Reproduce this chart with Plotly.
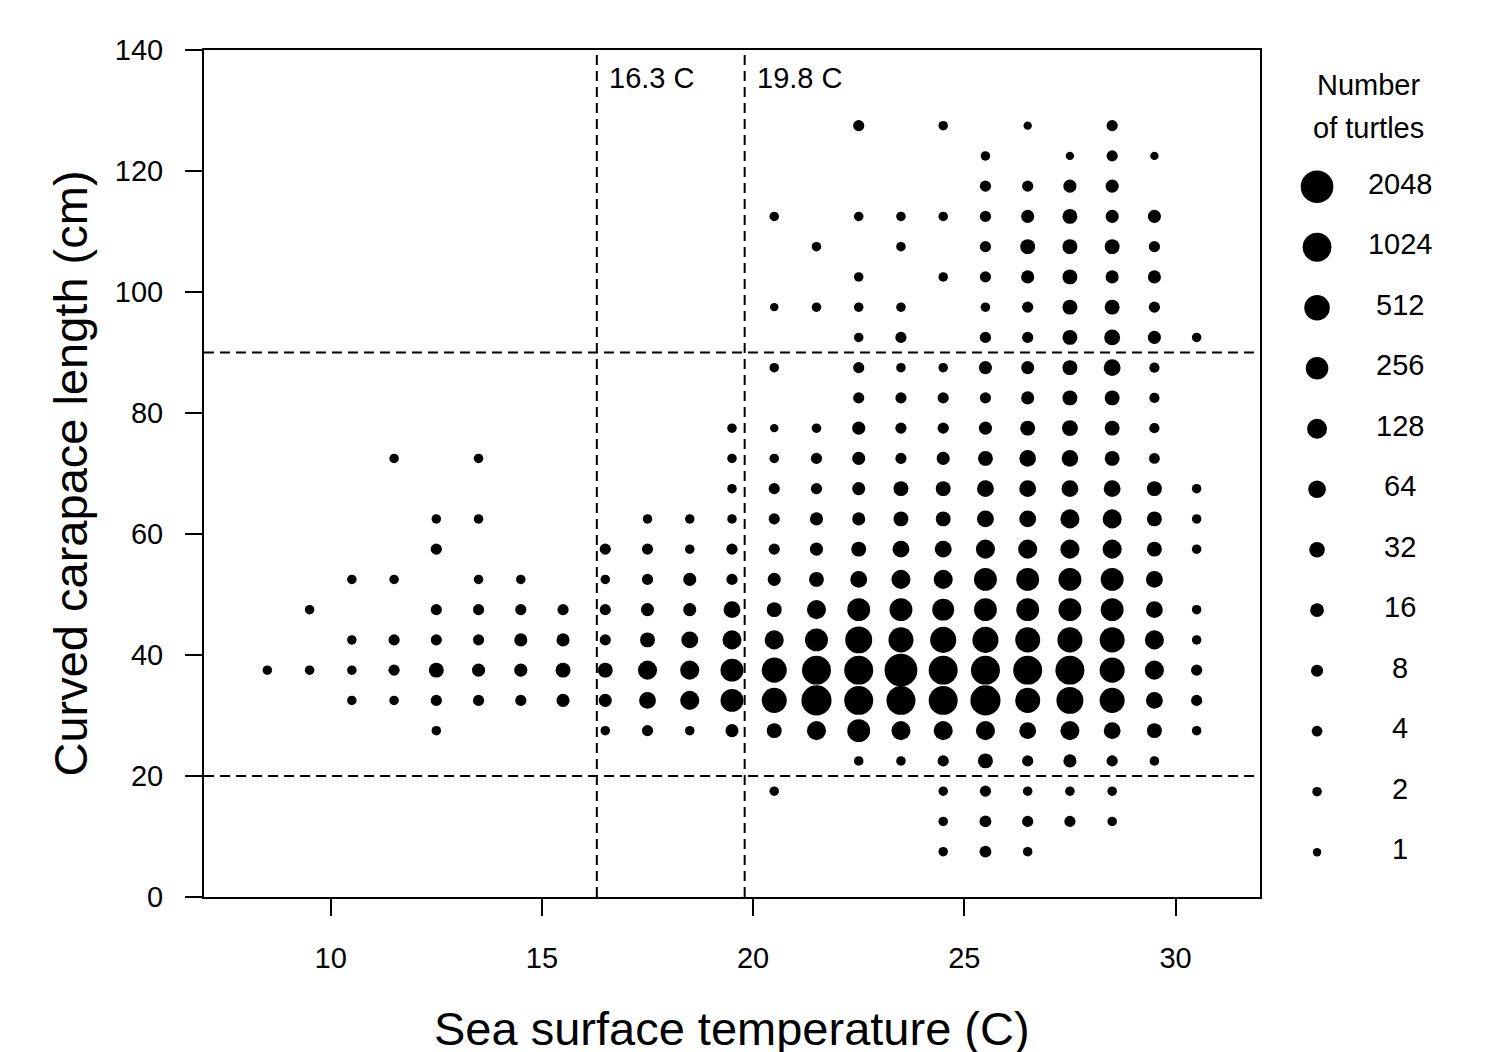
import plotly.graph_objects as go

# ---- data: sea surface temperature bins (C) and curved carapace length bins (cm)
sst_bins = [8.5, 9.5, 10.5, 11.5, 12.5, 13.5, 14.5, 15.5, 16.5, 17.5, 18.5, 19.5,
            20.5, 21.5, 22.5, 23.5, 24.5, 25.5, 26.5, 27.5, 28.5, 29.5, 30.5]

ccl_by_sst = [
    [37.5],
    [37.5, 47.5],
    [32.5, 37.5, 42.5, 52.5],
    [32.5, 37.5, 42.5, 52.5, 72.5],
    [27.5, 32.5, 37.5, 42.5, 47.5, 57.5, 62.5],
    [32.5, 37.5, 42.5, 47.5, 52.5, 62.5, 72.5],
    [32.5, 37.5, 42.5, 47.5, 52.5],
    [32.5, 37.5, 42.5, 47.5],
    [27.5, 32.5, 37.5, 42.5, 47.5, 52.5, 57.5],
    [27.5, 32.5, 37.5, 42.5, 47.5, 52.5, 57.5, 62.5],
    [27.5, 32.5, 37.5, 42.5, 47.5, 52.5, 57.5, 62.5],
    [27.5, 32.5, 37.5, 42.5, 47.5, 52.5, 57.5, 62.5, 67.5, 72.5, 77.5],
    [17.5, 27.5, 32.5, 37.5, 42.5, 47.5, 52.5, 57.5, 62.5, 67.5, 72.5, 77.5, 87.5, 97.5, 112.5],
    [27.5, 32.5, 37.5, 42.5, 47.5, 52.5, 57.5, 62.5, 67.5, 72.5, 77.5, 97.5, 107.5],
    [22.5, 27.5, 32.5, 37.5, 42.5, 47.5, 52.5, 57.5, 62.5, 67.5, 72.5, 77.5, 82.5, 87.5, 92.5,
     97.5, 102.5, 112.5, 127.5],
    [22.5, 27.5, 32.5, 37.5, 42.5, 47.5, 52.5, 57.5, 62.5, 67.5, 72.5, 77.5, 82.5, 87.5, 92.5,
     97.5, 107.5, 112.5],
    [7.5, 12.5, 17.5, 22.5, 27.5, 32.5, 37.5, 42.5, 47.5, 52.5, 57.5, 62.5, 67.5, 72.5, 77.5,
     82.5, 87.5, 102.5, 112.5, 127.5],
    [7.5, 12.5, 17.5, 22.5, 27.5, 32.5, 37.5, 42.5, 47.5, 52.5, 57.5, 62.5, 67.5, 72.5, 77.5,
     82.5, 87.5, 92.5, 97.5, 102.5, 107.5, 112.5, 117.5, 122.5],
    [7.5, 12.5, 17.5, 22.5, 27.5, 32.5, 37.5, 42.5, 47.5, 52.5, 57.5, 62.5, 67.5, 72.5, 77.5,
     82.5, 87.5, 92.5, 97.5, 102.5, 107.5, 112.5, 117.5, 127.5],
    [12.5, 17.5, 22.5, 27.5, 32.5, 37.5, 42.5, 47.5, 52.5, 57.5, 62.5, 67.5, 72.5, 77.5, 82.5,
     87.5, 92.5, 97.5, 102.5, 107.5, 112.5, 117.5, 122.5],
    [12.5, 17.5, 22.5, 27.5, 32.5, 37.5, 42.5, 47.5, 52.5, 57.5, 62.5, 67.5, 72.5, 77.5, 82.5,
     87.5, 92.5, 97.5, 102.5, 107.5, 112.5, 117.5, 122.5, 127.5],
    [22.5, 27.5, 32.5, 37.5, 42.5, 47.5, 52.5, 57.5, 62.5, 67.5, 72.5, 77.5, 82.5, 87.5, 92.5,
     97.5, 102.5, 107.5, 112.5, 122.5],
    [27.5, 32.5, 37.5, 42.5, 47.5, 57.5, 62.5, 67.5, 92.5],
]

turtles_by_sst = [
    [2],
    [2, 2],
    [2, 2, 2, 2],
    [2, 5, 5, 2, 2],
    [2, 5, 25, 5, 5, 5, 2],
    [5, 12, 5, 5, 2, 2, 2],
    [5, 12, 12, 5, 2],
    [12, 25, 12, 5],
    [2, 12, 25, 5, 5, 2, 5],
    [5, 50, 100, 25, 12, 5, 5, 2],
    [2, 100, 100, 50, 12, 12, 2, 2],
    [12, 280, 280, 100, 50, 5, 5, 2, 2, 2, 2],
    [2, 25, 460, 460, 100, 25, 12, 5, 5, 5, 2, 1, 2, 1, 2],
    [100, 1300, 1050, 280, 100, 25, 12, 12, 5, 5, 2, 2, 2],
    [2, 280, 1050, 1050, 700, 280, 50, 25, 12, 12, 12, 12, 5, 5, 2, 2, 2, 2, 5],
    [2, 100, 1050, 2100, 460, 280, 100, 50, 25, 25, 5, 5, 5, 2, 5, 2, 2, 2],
    [2, 2, 2, 5, 100, 1050, 1050, 580, 220, 100, 50, 25, 25, 12, 5, 5, 2, 2, 2, 2],
    [7, 7, 5, 25, 100, 1300, 1050, 580, 280, 280, 100, 50, 50, 25, 12, 5, 12, 5, 2, 5, 5, 5, 5, 2],
    [2, 5, 2, 5, 50, 460, 1050, 460, 280, 280, 100, 50, 50, 45, 25, 12, 12, 5, 5, 12, 25, 12, 5, 1],
    [5, 2, 12, 100, 700, 1050, 460, 280, 280, 100, 100, 50, 45, 36, 25, 25, 25, 25, 25, 25, 25, 12, 1],
    [2, 2, 5, 50, 460, 460, 460, 280, 280, 100, 100, 50, 25, 25, 25, 50, 36, 25, 12, 25, 12, 12, 5, 5],
    [2, 25, 50, 100, 100, 50, 50, 25, 25, 25, 4, 3, 3, 3, 12, 5, 12, 5, 12, 1],
    [2, 5, 5, 2, 2, 2, 2, 2, 2],
]

legend_counts = [2048, 1024, 512, 256, 128, 64, 32, 16, 8, 4, 2, 1]
sst_thresholds = [16.3, 19.8]
ccl_thresholds = [20, 90]
x_ticks = [10, 15, 20, 25, 30]
y_ticks = [0, 20, 40, 60, 80, 100, 120, 140]

# ---- styling helpers
FONT = "Liberation Sans, Arial, Helvetica, sans-serif"
FS = 29


def dot_size(n):
    return 8.4 * n ** 0.178


xs, ys, ns = [], [], []
for x, ccls, cnts in zip(sst_bins, ccl_by_sst, turtles_by_sst):
    for y, n in zip(ccls, cnts):
        xs.append(x)
        ys.append(y)
        ns.append(n)

fig = go.Figure()
fig.add_trace(go.Scatter(
    x=xs, y=ys, mode="markers",
    marker=dict(size=[dot_size(n) for n in ns], sizemode="diameter",
                color="black", opacity=1, line=dict(width=0)),
    customdata=ns, hovertemplate="SST %{x} C<br>CCL %{y} cm<br>n=%{customdata}<extra></extra>",
    showlegend=False, cliponaxis=False,
))

# legend drawn on a secondary axis pair
leg_top = 117.4
leg_step = 10.0
leg_y = [leg_top - i * leg_step for i in range(len(legend_counts))]
fig.add_trace(go.Scatter(
    x=[0.243] * len(legend_counts), y=leg_y, mode="markers",
    marker=dict(size=[dot_size(n) for n in legend_counts], sizemode="diameter",
                color="black", opacity=1, line=dict(width=0)),
    xaxis="x2", yaxis="y2", showlegend=False, hoverinfo="skip", cliponaxis=False,
))
fig.add_trace(go.Scatter(
    x=[0.72] * len(legend_counts), y=leg_y, mode="text",
    text=[str(n) for n in legend_counts], textposition="middle center",
    textfont=dict(family=FONT, size=FS, color="black"),
    xaxis="x2", yaxis="y2", showlegend=False, hoverinfo="skip", cliponaxis=False,
))

shapes = []
for t in sst_thresholds:
    shapes.append(dict(type="line", xref="x", yref="y domain", x0=t, x1=t, y0=0, y1=1,
                       line=dict(color="black", width=2, dash="10px,6px")))
for t in ccl_thresholds:
    shapes.append(dict(type="line", xref="x domain", yref="y", x0=0, x1=1, y0=t, y1=t,
                       line=dict(color="black", width=2, dash="10px,6px")))

annotations = []
for t in sst_thresholds:
    annotations.append(dict(x=t, y=1, xref="x", yref="paper", text=f"{t} C",
                            showarrow=False, xanchor="left", yanchor="middle",
                            xshift=10, yshift=-28,
                            font=dict(family=FONT, size=FS, color="black")))
annotations.append(dict(x=0.54, y=134.2, xref="x2", yref="y2", text="Number",
                        showarrow=False, xanchor="center", yanchor="middle",
                        font=dict(family=FONT, size=FS, color="black")))
annotations.append(dict(x=0.54, y=127.1, xref="x2", yref="y2", text="of turtles",
                        showarrow=False, xanchor="center", yanchor="middle",
                        font=dict(family=FONT, size=FS, color="black")))
annotations.append(dict(x=0.5, y=0, xref="x domain", yref="paper",
                        text="Sea surface temperature (C)", showarrow=False,
                        xanchor="center", yanchor="middle", yshift=-131,
                        font=dict(family=FONT, size=47, color="black")))
annotations.append(dict(x=0, y=0.5, xref="paper", yref="paper",
                        text="Curved carapace length (cm)", showarrow=False,
                        textangle=-90, xanchor="center", yanchor="middle", xshift=-134,
                        font=dict(family=FONT, size=47, color="black")))

# page has an 8px body margin: figure is offset accordingly
L, R, T, B = 196, 40, 42, 155
W, H = 1481, 1044
main_frac = 1056 / (W - L - R)

fig.update_layout(
    width=W, height=H,
    margin=dict(l=L, r=R, t=T, b=B),
    paper_bgcolor="white", plot_bgcolor="white",
    font=dict(family=FONT, size=FS, color="black"),
    xaxis=dict(domain=[0, main_frac], range=[7, 32], tickvals=x_ticks,
               showgrid=False, zeroline=False, showline=True, mirror=True,
               linecolor="black", linewidth=2, ticks="outside", ticklen=17,
               tickwidth=2, tickcolor="black", ticklabelstandoff=17,
               tickfont=dict(family=FONT, size=FS, color="black")),
    yaxis=dict(domain=[0, 1], range=[0, 140], tickvals=y_ticks,
               showgrid=False, zeroline=False, showline=True, mirror=True,
               linecolor="black", linewidth=2, ticks="outside", ticklen=17,
               tickwidth=2, tickcolor="black", ticklabelstandoff=16,
               tickfont=dict(family=FONT, size=FS, color="black")),
    xaxis2=dict(domain=[0.86, 1.0], range=[0, 1], visible=False, anchor="y2"),
    yaxis2=dict(domain=[0, 1], range=[0, 140], visible=False, anchor="x2"),
    shapes=shapes,
    annotations=annotations,
    showlegend=False,
)

fig.write_html("out.html")
